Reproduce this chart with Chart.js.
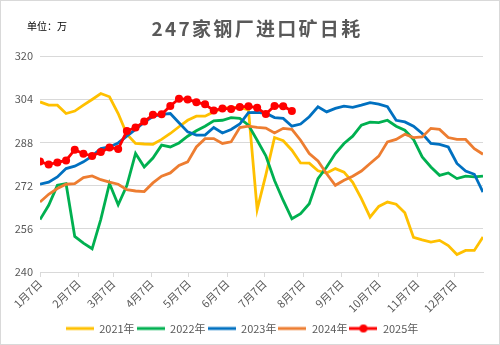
<!DOCTYPE html>
<html>
<head>
<meta charset="utf-8">
<script src="https://cdn.jsdelivr.net/npm/chart.js@4"></script>
<style>
  html, body { margin: 0; padding: 0; background: #fff; }
  #wrap { width: 498px; height: 343px; border: 1px solid #d9d9d9; }
  canvas { display: block; }
</style>
</head>
<body>
<div id="wrap"><canvas id="oreChart" width="498" height="343"></canvas></div>
<script>
const chartTitle = '247家钢厂进口矿日耗';
const unitText = '单位：万';
const seriesNames = ['2021年', '2022年', '2023年', '2024年', '2025年'];
const seriesColors = ['#FFC000', '#00B050', '#0070C0', '#ED7D31', '#FF0000'];
const monthLabels = ['1月7日', '2月7日', '3月7日', '4月7日', '5月7日', '6月7日',
  '7月7日', '8月7日', '9月7日', '10月7日', '11月7日', '12月7日'];
const yMin = 240, yMax = 320, yStep = 16;

// weekly values, first week = 1月7日
const y2021 = [303.0, 301.8, 301.8, 298.7, 299.6, 301.8, 303.9, 306.1, 304.9, 298.7,
  291.0, 287.6, 287.4, 287.3, 289.1, 291.3, 293.8, 296.2, 297.7, 297.7,
  299.3, 300.6, 301.0, 301.0, 300.0, 263.1, 276.0, 289.8, 288.6, 285.1,
  280.4, 280.3, 277.5, 276.7, 278.3, 277.0, 273.2, 267.2, 260.3, 264.3,
  265.9, 265.1, 261.9, 252.8, 251.9, 251.1, 251.7, 249.8, 246.5, 248.0, 248.0, 253.0];
const y2022 = [259.4, 264.7, 272.1, 272.7, 253.2, 250.7, 248.6, 259.5, 272.8, 264.9,
  272.0, 283.9, 278.9, 282.2, 287.0, 286.3, 287.8, 290.3, 292.3, 294.0,
  296.0, 296.2, 297.2, 296.9, 294.4, 288.8, 283.0, 273.9, 266.5, 259.7,
  261.6, 265.3, 274.6, 278.9, 283.9, 287.6, 290.3, 294.4, 295.5, 295.3,
  296.2, 294.0, 292.5, 289.1, 282.6, 278.9, 275.8, 276.7, 274.6, 275.5, 275.2, 275.5];
const y2023 = [272.5, 273.3, 275.2, 278.3, 279.2, 280.8, 282.9, 285.7, 286.3, 287.8,
  290.3, 292.8, 295.5, 297.6, 298.4, 298.7, 295.3, 291.9, 290.7, 290.7,
  293.5, 291.5, 292.8, 294.8, 299.0, 299.1, 298.8, 297.2, 296.9, 294.0,
  294.8, 297.5, 301.2, 299.3, 300.6, 301.4, 301.0, 301.8, 302.7, 302.2,
  301.2, 296.2, 295.6, 294.0, 291.3, 287.6, 287.3, 286.3, 280.2, 277.4, 276.2, 269.6];
const y2024 = [265.9, 268.8, 270.9, 272.5, 272.7, 275.0, 275.6, 274.2, 273.3, 272.5,
  270.5, 270.0, 269.8, 273.0, 275.5, 276.7, 279.5, 280.8, 286.3, 289.4,
  289.4, 287.6, 288.2, 293.5, 294.0, 293.6, 293.3, 291.5, 293.2, 292.8,
  288.8, 283.9, 281.1, 276.4, 272.1, 274.0, 275.5, 277.4, 280.2, 282.9,
  288.2, 289.1, 291.0, 289.8, 290.0, 293.2, 292.8, 289.8, 289.1, 289.1, 285.7, 283.6];
const y2025 = [280.9, 279.8, 280.6, 281.3, 285.3, 283.8, 283.0, 284.4, 286.1, 285.6,
  292.2, 293.5, 295.7, 298.2, 298.4, 301.5, 304.2, 303.9, 302.9, 302.1,
  299.8, 300.6, 300.4, 301.1, 301.4, 300.8, 298.5, 301.5, 301.4, 299.6];
const allSeries = [y2021, y2022, y2023, y2024, y2025];

// day of year (Jan 1 = 0)
function dayOfYear(month, day) {
  return Math.round((Date.UTC(2021, month, day) - Date.UTC(2021, 0, 1)) / 86400000);
}
const monthDays = monthLabels.map((_, m) => dayOfYear(m, 7));
const firstDay = dayOfYear(0, 7);
const toPoints = vals => vals.map((v, i) => ({ x: firstDay + 7 * i, y: v }));

function legendIcon(color, withDot) {
  const c = document.createElement('canvas');
  c.width = 28; c.height = 10;
  const g = c.getContext('2d');
  g.strokeStyle = color;
  g.lineWidth = 3;
  g.beginPath(); g.moveTo(0, 5); g.lineTo(28, 5); g.stroke();
  if (withDot) {
    g.fillStyle = color;
    g.beginPath(); g.arc(14, 5, 4, 0, Math.PI * 2); g.fill();
  }
  return c;
}

const headerText = {
  id: 'headerText',
  afterDraw(chart) {
    const c = chart.ctx;
    c.save();
    c.textBaseline = 'middle';
    c.fillStyle = '#000';
    c.font = '10px "Noto Sans CJK SC"';
    c.textAlign = 'left';
    c.fillText(unitText, 26, 25);
    c.fillStyle = '#595959';
    c.font = 'bold 19px "Noto Sans CJK SC"';
    c.letterSpacing = '2.3px';
    c.textAlign = 'center';
    c.fillText(chartTitle, 256, 28);
    c.restore();
  }
};

const datasets = allSeries.map((vals, i) => ({
  label: seriesNames[i],
  data: toPoints(vals),
  borderColor: seriesColors[i],
  backgroundColor: seriesColors[i],
  borderWidth: 2.8,
  tension: 0,
  pointRadius: i === 4 ? 4 : 0,
  pointHoverRadius: i === 4 ? 4 : 0,
  pointBorderWidth: 0,
  order: allSeries.length - i
}));

const ctx = document.getElementById('oreChart').getContext('2d');
const oreChart = new Chart(ctx, {
  type: 'line',
  data: { datasets: datasets },
  plugins: [headerText],
  options: {
    responsive: false,
    animation: false,
    layout: { padding: { top: 55, right: 16, bottom: 0, left: 0 } },
    scales: {
      x: {
        type: 'linear',
        min: firstDay,
        max: firstDay + 7 * (y2021.length - 1),
        afterBuildTicks: axis => { axis.ticks = monthDays.map(v => ({ value: v })); },
        afterFit: axis => { axis.height = 49; },
        ticks: {
          autoSkip: false,
          maxRotation: 45,
          minRotation: 45,
          color: '#595959',
          font: { size: 11, family: '"Noto Sans CJK SC"' },
          padding: 0,
          callback: (value, index) => monthLabels[index]
        },
        grid: { drawOnChartArea: false, drawTicks: true, tickLength: 5, color: '#d9d9d9' },
        border: { display: true, color: '#d9d9d9' }
      },
      y: {
        min: yMin,
        max: yMax,
        afterFit: axis => { axis.width = 39; },
        ticks: {
          stepSize: yStep,
          color: '#595959',
          font: { size: 11, family: '"Noto Sans CJK SC"' },
          padding: 7
        },
        grid: { color: '#d9d9d9', drawTicks: false },
        border: { display: false }
      }
    },
    plugins: {
      title: { display: false },
      tooltip: { enabled: false },
      legend: {
        position: 'bottom',
        labels: {
          usePointStyle: true,
          pointStyleWidth: 28,
          boxHeight: 10,
          padding: 2,
          color: '#595959',
          font: { size: 11, family: '"Noto Sans CJK SC"' },
          generateLabels(chart) {
            const items = Chart.defaults.plugins.legend.labels.generateLabels(chart);
            items.forEach(it => { it.pointStyle = legendIcon(seriesColors[it.datasetIndex], it.datasetIndex === 4); });
            return items.sort((a, b) => a.datasetIndex - b.datasetIndex);
          }
        }
      }
    }
  }
});
</script>
</body>
</html>
